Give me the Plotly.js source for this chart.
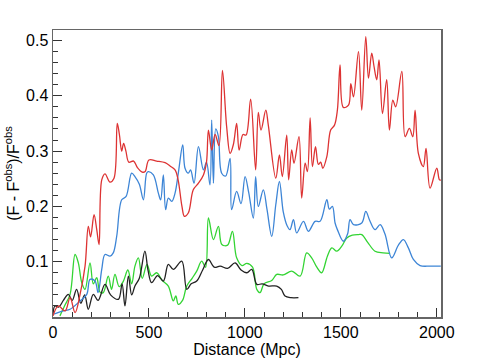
<!DOCTYPE html>
<html>
<head>
<meta charset="utf-8">
<script src="https://cdn.plot.ly/plotly-3.0.1.min.js"></script>
<style>
  body { margin: 0; background: #fff; }
  #plot { width: 485px; height: 359px; }
</style>
</head>
<body>
<div id="plot"></div>
<script>
// Curves: distance (Mpc) and relative difference
let redX = [0, 28, 63, 89, 115, 141, 167, 184, 196, 214, 228, 240, 254, 271, 297, 318, 335, 346, 358, 368, 380, 395, 420, 440, 465, 480, 500, 540, 584, 610, 636, 652, 672, 685, 705, 731, 758, 784, 800, 810, 827, 845, 865, 883, 905, 923, 940, 957, 970, 990, 1006, 1030, 1056, 1070, 1084, 1109, 1122, 1161, 1180, 1195, 1218, 1228, 1244, 1256, 1282, 1296, 1314, 1326, 1340, 1352, 1368, 1383, 1395, 1406, 1427, 1447, 1467, 1482, 1496, 1513, 1540, 1552, 1566, 1592, 1609, 1630, 1644, 1661, 1673, 1687, 1699, 1717, 1739, 1753, 1771, 1786, 1818, 1835, 1857, 1875, 1887, 1904, 1930, 1944, 1965, 2000, 2014, 2021];
let redY = [0.002, 0.020, 0.011, 0.035, 0.008, 0.041, 0.092, 0.164, 0.145, 0.185, 0.158, 0.131, 0.248, 0.259, 0.244, 0.251, 0.350, 0.330, 0.300, 0.314, 0.300, 0.280, 0.282, 0.270, 0.262, 0.263, 0.284, 0.282, 0.279, 0.273, 0.266, 0.248, 0.200, 0.182, 0.188, 0.230, 0.242, 0.257, 0.280, 0.338, 0.302, 0.330, 0.310, 0.446, 0.344, 0.296, 0.312, 0.350, 0.302, 0.330, 0.329, 0.394, 0.266, 0.370, 0.338, 0.374, 0.347, 0.251, 0.293, 0.254, 0.329, 0.248, 0.302, 0.278, 0.326, 0.215, 0.278, 0.263, 0.360, 0.272, 0.308, 0.276, 0.280, 0.269, 0.290, 0.338, 0.347, 0.374, 0.456, 0.379, 0.383, 0.422, 0.398, 0.480, 0.374, 0.507, 0.432, 0.477, 0.453, 0.429, 0.465, 0.368, 0.429, 0.338, 0.392, 0.380, 0.444, 0.326, 0.341, 0.326, 0.374, 0.296, 0.272, 0.305, 0.233, 0.269, 0.248, 0.248];

let blueX = [2, 54, 89, 141, 176, 193, 219, 235, 254, 271, 297, 314, 332, 358, 381, 410, 427, 450, 471, 488, 497, 523, 549, 561, 575, 587, 601, 619, 636, 653, 676, 688, 705, 717, 735, 758, 784, 800, 818, 827, 836, 848, 862, 879, 900, 923, 931, 957, 980, 1001, 1020, 1044, 1056, 1070, 1096, 1115, 1140, 1161, 1180, 1200, 1220, 1235, 1253, 1270, 1305, 1331, 1366, 1392, 1427, 1440, 1456, 1470, 1482, 1513, 1535, 1548, 1566, 1609, 1630, 1650, 1678, 1705, 1730, 1765, 1800, 1826, 1852, 1878, 1913, 1965, 2021];
let blueY = [0.005, 0.011, 0.014, 0.029, 0.041, 0.068, 0.065, 0.044, 0.086, 0.113, 0.110, 0.116, 0.146, 0.212, 0.218, 0.260, 0.254, 0.240, 0.212, 0.260, 0.263, 0.257, 0.224, 0.212, 0.257, 0.194, 0.215, 0.209, 0.224, 0.260, 0.311, 0.269, 0.260, 0.266, 0.242, 0.308, 0.266, 0.280, 0.239, 0.356, 0.242, 0.340, 0.326, 0.260, 0.255, 0.287, 0.194, 0.227, 0.205, 0.254, 0.225, 0.179, 0.254, 0.200, 0.230, 0.195, 0.146, 0.203, 0.245, 0.190, 0.165, 0.158, 0.176, 0.152, 0.173, 0.155, 0.173, 0.173, 0.212, 0.195, 0.200, 0.170, 0.158, 0.137, 0.150, 0.176, 0.167, 0.170, 0.191, 0.175, 0.158, 0.167, 0.150, 0.107, 0.130, 0.140, 0.125, 0.104, 0.093, 0.092, 0.092];

let greenX = [36, 60, 89, 115, 132, 150, 167, 193, 210, 228, 245, 262, 288, 305, 323, 345, 367, 390, 410, 427, 445, 465, 490, 514, 540, 570, 601, 627, 640, 653, 675, 697, 725, 749, 775, 795, 810, 836, 862, 880, 910, 935, 957, 985, 1010, 1040, 1062, 1079, 1100, 1140, 1166, 1200, 1244, 1288, 1322, 1348, 1375, 1400, 1430, 1453, 1479, 1505, 1531, 1560, 1592, 1609, 1640, 1678, 1720, 1757];
let greenY = [0.002, 0.020, 0.041, 0.113, 0.098, 0.062, 0.050, 0.098, 0.060, 0.071, 0.045, 0.044, 0.074, 0.050, 0.077, 0.055, 0.065, 0.085, 0.060, 0.092, 0.107, 0.070, 0.095, 0.074, 0.080, 0.066, 0.056, 0.029, 0.038, 0.023, 0.030, 0.056, 0.070, 0.083, 0.101, 0.090, 0.179, 0.140, 0.164, 0.131, 0.130, 0.155, 0.107, 0.093, 0.097, 0.090, 0.050, 0.044, 0.060, 0.066, 0.077, 0.076, 0.083, 0.074, 0.116, 0.107, 0.090, 0.080, 0.110, 0.125, 0.119, 0.128, 0.143, 0.148, 0.149, 0.149, 0.135, 0.119, 0.116, 0.115];

let blackX = [0, 10, 30, 54, 80, 100, 123, 145, 165, 184, 210, 235, 271, 300, 341, 360, 375, 393, 410, 427, 450, 479, 495, 514, 545, 575, 601, 627, 671, 697, 720, 749, 780, 810, 840, 871, 910, 949, 980, 1010, 1036, 1062, 1090, 1123, 1166, 1190, 1209, 1240, 1279];
let blackY = [0.005, 0.020, 0.018, 0.030, 0.041, 0.030, 0.050, 0.025, 0.040, 0.014, 0.041, 0.030, 0.059, 0.040, 0.032, 0.060, 0.020, 0.074, 0.040, 0.056, 0.070, 0.119, 0.085, 0.062, 0.075, 0.065, 0.095, 0.086, 0.101, 0.050, 0.060, 0.065, 0.085, 0.104, 0.090, 0.092, 0.088, 0.098, 0.085, 0.080, 0.086, 0.059, 0.060, 0.056, 0.056, 0.050, 0.038, 0.035, 0.035];

let xTicks = [0, 500, 1000, 1500, 2000];
let yTicks = [0.1, 0.2, 0.3, 0.4, 0.5];

function curve(x, y, color) {
    return { x: x, y: y, type: "scatter", mode: "lines",
             line: { color: color, width: 1.3, shape: "spline", smoothing: 1 },
             hoverinfo: "skip" };
}

let traces = [
    curve(greenX, greenY, "#33d433"),
    curve(blackX, blackY, "#222222"),
    curve(blueX, blueY, "#3d85d6"),
    curve(redX, redY, "#dd3333")
];

let yMinor = [];
for (let v = 0.02; v < 0.52; v += 0.02) yMinor.push(+v.toFixed(2));

let axisFont = { family: "Liberation Sans, Arial, sans-serif", size: 16, color: "#000" };

let layout = {
    width: 485, height: 359,
    margin: { l: 53, r: 44, t: 30, b: 42 },
    paper_bgcolor: "#fff", plot_bgcolor: "#fff",
    showlegend: false,
    font: axisFont,
    xaxis: {
        range: [0, 2022],
        tickmode: "array", tickvals: xTicks, ticktext: xTicks.map(String),
        ticks: "inside", ticklen: 9, tickcolor: "#333", tickwidth: 1,
        minor: { dtick: 100, tick0: 0, ticks: "inside", ticklen: 5, tickcolor: "#333" },
        showline: true, linecolor: "#666", linewidth: 1.5, mirror: true,
        showgrid: false, zeroline: false,
        tickfont: axisFont,
        title: { text: "Distance (Mpc)", font: axisFont, standoff: 0 }
    },
    yaxis: {
        range: [0, 0.519],
        tickmode: "array", tickvals: yTicks, ticktext: yTicks.map(String),
        ticks: "inside", ticklen: 9, tickcolor: "#333", tickwidth: 1,
        minor: { tickmode: "array", tickvals: yMinor, ticks: "inside", ticklen: 5, tickcolor: "#333" },
        showline: true, linecolor: "#666", linewidth: 1.5, mirror: true,
        showgrid: false, zeroline: false,
        tickfont: axisFont,
        title: { text: "(F - F<sup>obs</sup>)/F<sup>obs</sup>", font: axisFont, standoff: 2 }
    }
};

Plotly.newPlot("plot", traces, layout, { displayModeBar: false, staticPlot: true });
</script>
</body>
</html>
